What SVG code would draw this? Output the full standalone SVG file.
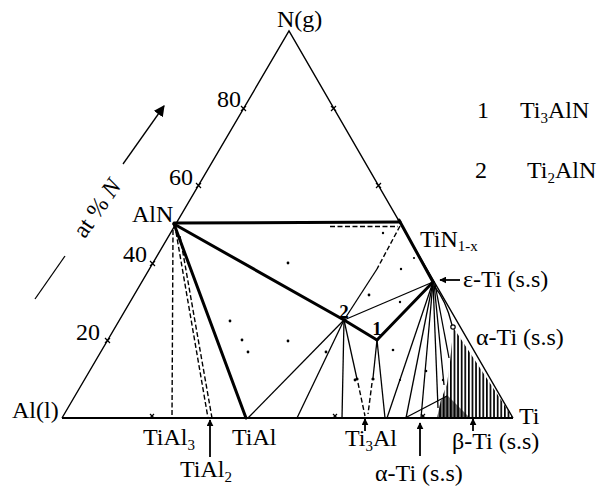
<svg xmlns="http://www.w3.org/2000/svg" width="600" height="491" viewBox="0 0 600 491">
<style>
text{font-family:'Liberation Serif','DejaVu Serif',serif;font-size:24px;fill:#000}
.sub{font-size:15px}
.edge{stroke:#000;stroke-width:1.4;fill:none}
.thick{stroke:#000;stroke-width:3;fill:none;stroke-linecap:round}
.med{stroke:#000;stroke-width:1.8;fill:none}
.thin{stroke:#000;stroke-width:1.3;fill:none}
.dash{stroke:#000;stroke-width:1.4;fill:none;stroke-dasharray:5 2.5}
.tick{stroke:#000;stroke-width:1.2}
.dot{fill:#000}
text.num{font-size:19px;font-weight:bold}
</style>
<defs>
<marker id="ah" viewBox="0 0 10 10" refX="9" refY="5" markerWidth="7" markerHeight="7" orient="auto" markerUnits="userSpaceOnUse">
<path d="M0,0 L10,5 L0,10 z" fill="#000"/>
</marker>
<marker id="ah2" viewBox="0 0 10 10" refX="9" refY="5" markerWidth="11" markerHeight="11" orient="auto" markerUnits="userSpaceOnUse">
<path d="M0,0 L10,5 L0,10 z" fill="#000"/>
</marker>
<pattern id="hatch" width="3.6" height="10" patternUnits="userSpaceOnUse">
<rect x="0" y="0" width="1.7" height="10" fill="#000"/>
</pattern>
</defs>
<rect width="600" height="491" fill="#fff"/>

<g id="frame">
<path class="edge" d="M62,418 L289,31 L513,418"/>
<line class="med" x1="62" y1="418" x2="513" y2="418"/>
<g class="tick">
<path d="M241,106 l5,5 M246,106 l-5,5"/>
<path d="M196,183 l5,5 M201,183 l-5,5"/>
<path d="M150,261 l5,5 M155,261 l-5,5"/>
<path d="M105,338 l5,5 M110,338 l-5,5"/>
<path d="M331,106 l5,5 M336,106 l-5,5"/>
<path d="M376,183 l5,5 M381,183 l-5,5"/>
<path d="M150,414 l4,4 M154,414 l-4,4"/>
<path d="M333,414 l4,4 M337,414 l-4,4"/>
<path d="M421,414 l4,4 M425,414 l-4,4"/>
</g>
</g>

<g id="hatched-region">
<path d="M453,327 L513,418 L437,418 L441,400 L447,384 L450,362 L452,342 Z" fill="url(#hatch)"/>
<path d="M437,418 L441,400 L447,395 L470,418 Z" fill="#000" opacity="0.55"/>
<circle cx="453" cy="327" r="2.2" fill="#fff" stroke="#000" stroke-width="1.2"/>
</g>

<g id="connectors">
<line class="thick" x1="174" y1="223" x2="400" y2="222"/>
<line class="dash" x1="330" y1="226.5" x2="398" y2="226.5"/>
<line class="thick" x1="174" y1="224" x2="344" y2="320"/>
<line class="thick" x1="174" y1="224" x2="246" y2="418"/>
<line class="dash" x1="173" y1="230" x2="172" y2="418"/>
<line class="dash" x1="176" y1="232" x2="208" y2="418"/>
<line class="dash" x1="180" y1="236" x2="212" y2="418"/>
<line class="thick" x1="399" y1="220" x2="433" y2="282"/>
<line class="dash" x1="400" y1="226" x2="377" y2="269"/>
<line class="thin" x1="377" y1="269" x2="344" y2="320"/>
<line class="thin" x1="433" y1="282" x2="344" y2="320"/>
<line class="thick" x1="344" y1="320" x2="377" y2="340"/>
<line class="thick" x1="377" y1="340" x2="433" y2="282"/>
<line class="thin" x1="344" y1="320" x2="248" y2="418"/>
<line class="thin" x1="344" y1="320" x2="297" y2="418"/>
<line class="thin" x1="344" y1="320" x2="342" y2="418"/>
<line class="thin" x1="344" y1="320" x2="357" y2="379"/>
<line class="dash" x1="358" y1="383" x2="365" y2="416"/>
<line class="thin" x1="377" y1="340" x2="373" y2="378"/>
<line class="dash" x1="372" y1="383" x2="368" y2="414"/>
<line class="thin" x1="377" y1="340" x2="385" y2="418"/>
<line class="thin" x1="433" y1="282" x2="387" y2="418"/>
<line class="thin" x1="433" y1="282" x2="406" y2="418"/>
<line class="thin" x1="433" y1="282" x2="421" y2="418"/>
<line class="thin" x1="433" y1="282" x2="438" y2="408"/>
<line class="thin" x1="434" y1="283" x2="444" y2="385"/>
<line class="thin" x1="435" y1="284" x2="449" y2="358"/>
<path class="thin" d="M434,286 Q446,300 452,325"/>
<line class="thin" x1="405" y1="418" x2="447" y2="396"/>
</g>

<g id="data-points" class="dot">
<circle cx="288" cy="263" r="1.4"/>
<circle cx="230" cy="321" r="1.4"/>
<circle cx="242" cy="340" r="1.4"/>
<circle cx="248" cy="352" r="1.4"/>
<circle cx="288" cy="341" r="1.4"/>
<circle cx="326" cy="352" r="1.4"/>
<circle cx="355" cy="380" r="1.4"/>
<circle cx="369" cy="295" r="1.4"/>
<circle cx="400" cy="302" r="1.2"/>
<circle cx="393" cy="350" r="1.3"/>
<circle cx="426" cy="371" r="1.3"/>
<circle cx="443" cy="380" r="1.2"/>
<circle cx="383" cy="233" r="1.2"/>
<circle cx="401" cy="269" r="1.2"/>
<circle cx="414" cy="258" r="1.1"/>
<circle cx="400" cy="380" r="1.1"/>
<circle cx="357" cy="379" r="1.6"/>
<circle cx="373" cy="379" r="1.6"/>
</g>

<g id="vertex-N"><text x="277" y="27">N(g)</text></g>
<g id="vertex-Al"><text x="12" y="418">Al(l)</text></g>
<g id="vertex-Ti"><text x="519" y="424">Ti</text></g>

<g id="scale-labels">
<text x="241" y="107" text-anchor="end">80</text>
<text x="193" y="185" text-anchor="end">60</text>
<text x="147" y="262" text-anchor="end">40</text>
<text x="100" y="340" text-anchor="end">20</text>
</g>
<g id="axis-title">
<line class="thin" x1="35" y1="299" x2="65" y2="256"/>
<line class="thin" x1="123" y1="164" x2="164" y2="106" marker-end="url(#ah2)"/>
<text x="97" y="216" text-anchor="middle" transform="rotate(-55 97 208)">at % <tspan font-style="italic">N</tspan></text>
</g>

<g id="node-AlN"><text x="132" y="222">AlN</text></g>
<g id="node-TiN"><text x="420" y="247">TiN<tspan class="sub" dy="4">1-x</tspan></text></g>
<g id="node-eTi">
<line class="med" x1="460" y1="280" x2="440" y2="280" marker-end="url(#ah)"/>
<text x="463" y="287">ε-Ti (s.s)</text>
</g>
<g id="node-aTi-right"><text x="476" y="345">α-Ti (s.s)</text></g>
<g id="node-2"><text class="num" x="344" y="318" text-anchor="middle">2</text></g>
<g id="node-1"><text class="num" x="377" y="335" text-anchor="middle">1</text></g>
<g id="node-TiAl3"><text x="143" y="445">TiAl<tspan class="sub" dy="5">3</tspan></text></g>
<g id="node-TiAl"><text x="232" y="445">TiAl</text></g>
<g id="node-TiAl2">
<line class="med" x1="210" y1="457" x2="210" y2="420" marker-end="url(#ah)"/>
<text x="180" y="477">TiAl<tspan class="sub" dy="5">2</tspan></text>
</g>
<g id="node-Ti3Al">
<line class="med" x1="365" y1="431" x2="365" y2="419" marker-end="url(#ah)"/>
<text x="345" y="446">Ti<tspan class="sub" dy="5">3</tspan><tspan dy="-5">Al</tspan></text>
</g>
<g id="node-aTi-bottom">
<line class="med" x1="420" y1="456" x2="420" y2="423" marker-end="url(#ah)"/>
<text x="375" y="481">α-Ti (s.s)</text>
</g>
<g id="node-bTi">
<line class="med" x1="473" y1="431" x2="473" y2="419" marker-end="url(#ah)"/>
<text x="452" y="449">β-Ti (s.s)</text>
</g>

<g id="legend">
<text x="477" y="118">1</text>
<text x="520" y="118">Ti<tspan class="sub" dy="5">3</tspan><tspan dy="-5">AlN</tspan></text>
<text x="475" y="178">2</text>
<text x="527" y="178">Ti<tspan class="sub" dy="5">2</tspan><tspan dy="-5">AlN</tspan></text>
</g>
</svg>
